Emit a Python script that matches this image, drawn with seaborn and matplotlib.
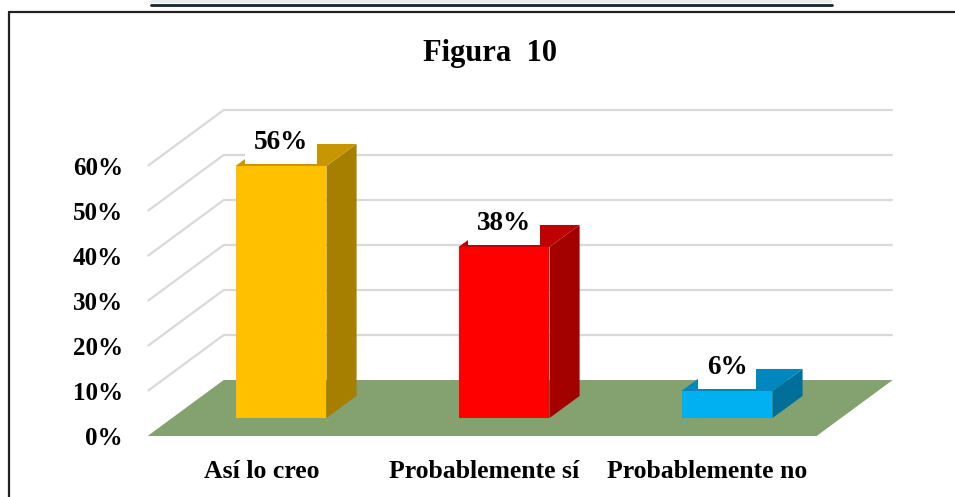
import matplotlib
matplotlib.use("Agg")
import matplotlib.pyplot as plt
from matplotlib.patches import Polygon, Rectangle
from matplotlib.lines import Line2D
import seaborn as sns

# Data
categories = ["Así lo creo", "Probablemente sí", "Probablemente no"]
values = [56, 38, 6]
y_ticks = [0, 10, 20, 30, 40, 50, 60]
title = "Figura  10"

# Colours (front, side, top) for each bar
front_colors = ["#FFC000", "#FF0000", "#00B0F0"]
side_colors = ["#A67F00", "#A30000", "#00709A"]
top_colors = ["#C79600", "#C00000", "#0088BE"]
floor_color = "#84A26F"
grid_color = "#D9D9D9"

# 3D look: depth offsets in data units
W = 0.408            # bar width
BAR_DX, BAR_DY = 0.135, 4.9
FL_FRONT = (-0.108, -4.0)
FL_BACK = (0.233, 8.44)
X_LEFT, X_RIGHT = -0.49, 2.51

sns.set_style("white")
plt.rcParams["font.family"] = ["Liberation Serif", "DejaVu Serif"]
plt.rcParams["font.weight"] = "bold"
plt.rcParams["text.color"] = "black"
plt.rcParams["xtick.color"] = "black"
plt.rcParams["ytick.color"] = "black"

fig = plt.figure(figsize=(9.55, 4.97), dpi=100)
ax = fig.add_axes([130 / 955, 47 / 497, 790 / 955, 355 / 497])

# back wall gridlines
for v in y_ticks[1:]:
    xs = [X_LEFT + FL_FRONT[0], X_LEFT + FL_BACK[0], X_RIGHT + FL_BACK[0]]
    ys = [v + FL_FRONT[1], v + FL_BACK[1], v + FL_BACK[1]]
    ax.plot(xs, ys, color=grid_color, lw=1.6, zorder=0, solid_capstyle="butt")

# floor
floor = Polygon([(X_LEFT + FL_FRONT[0], FL_FRONT[1]),
                 (X_RIGHT + FL_FRONT[0], FL_FRONT[1]),
                 (X_RIGHT + FL_BACK[0], FL_BACK[1]),
                 (X_LEFT + FL_BACK[0], FL_BACK[1])],
                closed=True, facecolor=floor_color, edgecolor="none", zorder=1)
ax.add_patch(floor)

# front faces through seaborn
sns.barplot(x=categories, y=values, hue=categories, palette=front_colors,
            width=W, saturation=1, legend=False, ax=ax, zorder=3,
            edgecolor="none", linewidth=0)

# side and top faces
for i, v in enumerate(values):
    r = i + W / 2
    l = i - W / 2
    side = Polygon([(r, 0), (r + BAR_DX, BAR_DY), (r + BAR_DX, v + BAR_DY), (r, v)],
                   closed=True, facecolor=side_colors[i], edgecolor="none", zorder=3)
    top = Polygon([(l, v), (r, v), (r + BAR_DX, v + BAR_DY), (l + BAR_DX, v + BAR_DY)],
                  closed=True, facecolor=top_colors[i], edgecolor="none", zorder=3)
    ax.add_patch(side)
    ax.add_patch(top)
    ax.text(i, v + 5.3, f"{v}%", ha="center", va="center", fontsize=19.5,
            fontweight="bold", color="black", zorder=5,
            bbox=dict(boxstyle="square,pad=0.33", facecolor="white", edgecolor="none"))

ax.set_xlim((130 - 281) / 223, (920 - 281) / 223)
ax.set_ylim((418 - 450) / 4.5, (418 - 95) / 4.5)

ax.set_yticks([t + FL_FRONT[1] for t in y_ticks])
ax.set_yticklabels([f"{t}%" for t in y_ticks], fontsize=18, fontweight="bold")
ax.set_xticks([i + FL_FRONT[0] + 0.02 for i in range(len(categories))])
ax.set_xticklabels(categories, fontsize=18.5, fontweight="bold")
ax.tick_params(axis="y", length=0, pad=5)
ax.tick_params(axis="x", length=0, pad=7)
ax.set_xlabel("")
ax.set_ylabel("")
for s in ax.spines.values():
    s.set_visible(False)
ax.patch.set_alpha(0)

fig.text(490 / 955, 1 - 53 / 497, title, ha="center", va="center",
         fontsize=22, fontweight="bold", color="black")

# frame around the figure and table strip at top
fig.add_artist(Rectangle((151 / 955, 1 - 3 / 497), 681 / 955, 3 / 497,
                         transform=fig.transFigure, facecolor="#E9EDEF", edgecolor="none"))
fig.add_artist(Line2D([151 / 955, 832 / 955], [1 - 4.5 / 497, 1 - 4.5 / 497],
                      transform=fig.transFigure, color="#17252E", lw=2))
fig.add_artist(Line2D([9 / 955, 1], [1 - 12 / 497, 1 - 12 / 497],
                      transform=fig.transFigure, color="#222222", lw=1.6))
fig.add_artist(Line2D([9 / 955, 9 / 955], [0, 1 - 12 / 497],
                      transform=fig.transFigure, color="#222222", lw=1.6))

fig.savefig("out.png", dpi=100)
